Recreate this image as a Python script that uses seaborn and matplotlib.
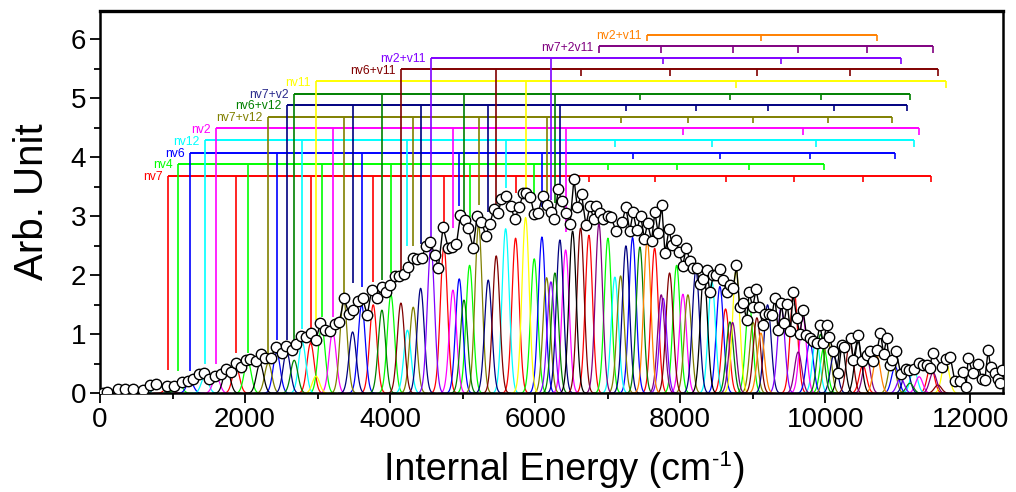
import numpy as np
import matplotlib
matplotlib.use("Agg")
import matplotlib.pyplot as plt
import seaborn as sns
from matplotlib.ticker import MultipleLocator

# ---------------- experimental data (energy cm-1, intensity) ----------------
energy = [40, 90, 250, 345, 460, 600, 690, 775, 920, 1020,
          1125, 1215, 1285, 1370, 1440, 1505, 1585, 1665, 1735, 1800,
          1875, 1945, 2020, 2075, 2150, 2215, 2275, 2355, 2425, 2505,
          2565, 2645, 2700, 2765, 2835, 2905, 2975, 3040, 3100, 3170,
          3240, 3300, 3365, 3435, 3490, 3560, 3620, 3685, 3745, 3815,
          3885, 3945, 4000, 4065, 4125, 4190, 4250, 4320, 4375, 4435,
          4495, 4550, 4620, 4665, 4730, 4800, 4860, 4915, 4970, 5030,
          5075, 5145, 5200, 5260, 5320, 5375, 5430, 5490, 5535, 5595,
          5660, 5720, 5780, 5835, 5880, 5935, 5985, 6040, 6105, 6160,
          6215, 6260, 6320, 6365, 6425, 6480, 6535, 6580, 6640, 6700,
          6755, 6810, 6845, 6895, 6940, 7000, 7045, 7115, 7200, 7250,
          7305, 7350, 7400, 7455, 7505, 7550, 7605, 7650, 7695, 7745,
          7790, 7845, 7890, 7940, 7985, 8035, 8080, 8135, 8170, 8225,
          8270, 8315, 8365, 8410, 8455, 8500, 8545, 8590, 8640, 8685,
          8730, 8775, 8820, 8870, 8915, 8950, 9000, 9045, 9090, 9135,
          9170, 9220, 9265, 9305, 9350, 9395, 9430, 9475, 9520, 9555,
          9605, 9650, 9695, 9740, 9785, 9835, 9880, 9925, 9970, 10020,
          10055, 10110, 10180, 10225, 10255, 10350, 10385, 10455, 10500, 10570,
          10615, 10660, 10715, 10760, 10805, 10845, 10890, 10925, 10975, 11040,
          11110, 11155, 11220, 11290, 11350, 11405, 11440, 11480, 11615, 11660,
          11725, 11785, 11855, 11900, 11940, 11970, 12030, 12110, 12155, 12200,
          12245, 12280, 12335, 12385, 12405, 12430]
intensity = [0.00, 0.03, 0.07, 0.07, 0.07, 0.05, 0.14, 0.16, 0.12, 0.12,
             0.20, 0.21, 0.24, 0.33, 0.34, 0.25, 0.30, 0.33, 0.42, 0.36,
             0.52, 0.45, 0.56, 0.58, 0.55, 0.66, 0.59, 0.60, 0.79, 0.68,
             0.81, 0.73, 0.84, 0.97, 0.95, 1.02, 0.90, 1.19, 1.07, 1.06,
             1.17, 1.21, 1.61, 1.34, 1.41, 1.56, 1.62, 1.32, 1.75, 1.61,
             1.81, 1.72, 1.84, 1.98, 1.99, 2.02, 2.14, 2.30, 2.27, 2.29,
             2.50, 2.57, 2.34, 2.13, 2.82, 2.47, 2.48, 2.53, 3.02, 2.94,
             2.81, 2.47, 3.01, 2.91, 2.67, 2.87, 3.12, 3.06, 3.29, 3.34,
             3.18, 2.95, 3.15, 3.39, 3.40, 3.33, 3.04, 3.06, 3.34, 3.20,
             3.08, 2.95, 3.46, 3.26, 3.06, 2.87, 3.64, 3.16, 3.37, 2.85,
             3.17, 2.95, 3.17, 3.06, 2.95, 3.00, 2.99, 2.75, 2.90, 3.16,
             2.75, 3.07, 2.76, 3.01, 2.62, 2.88, 2.59, 3.07, 2.72, 3.20,
             2.37, 2.78, 2.51, 2.60, 2.40, 2.15, 2.47, 2.25, 2.12, 2.13,
             1.85, 1.93, 2.09, 1.71, 2.00, 2.00, 2.11, 1.92, 1.72, 1.84,
             1.78, 2.17, 1.47, 1.53, 1.24, 1.71, 1.46, 1.76, 1.47, 1.16,
             1.34, 1.34, 1.33, 1.62, 1.07, 1.53, 1.19, 1.51, 1.06, 1.72,
             1.27, 1.00, 1.41, 0.98, 0.93, 0.89, 0.85, 1.16, 0.86, 1.16,
             0.95, 0.72, 0.35, 0.82, 0.79, 0.93, 0.56, 0.99, 0.55, 0.65,
             0.72, 0.55, 0.73, 1.03, 0.66, 0.93, 0.48, 0.56, 0.72, 0.33,
             0.41, 0.39, 0.41, 0.51, 0.48, 0.48, 0.43, 0.69, 0.44, 0.58,
             0.61, 0.21, 0.21, 0.36, 0.10, 0.60, 0.35, 0.49, 0.24, 0.23,
             0.73, 0.44, 0.35, 0.25, 0.17, 0.40]

# ---------------- progressions ----------------
prog_labels = ["nv7", "nv4", "nv6", "nv12", "nv2", "nv7+v12", "nv6+v12",
               "nv7+v2", "nv11", "nv6+v11", "nv2+v11", "nv7+2v11", "nv2+v11"]
prog_levels = [3.69, 3.89, 4.08, 4.29, 4.49, 4.69, 4.89, 5.08, 5.29, 5.49,
               5.69, 5.88, 6.08]
line_colors = ["#ff0000", "#00ff00", "#0000ff", "#00ffff", "#ff00ff", "#808000",
               "#000080", "#008000", "#ffff00", "#800000", "#8000ff", "#800080",
               "#ff8000"]
label_colors = ["#ff0000", "#00ff00", "#0000ff", "#00ffff", "#ff00ff", "#808000",
                "#008000", "#2b2b8c", "#ffff00", "#800000", "#8000ff", "#800080",
                "#ff8000"]

nv7_E = [942, 1875, 2904, 3767, 4742, 5730, 6741, 7647, 8625, 9567, 10518, 11455]
nv7_H = [0.11, 0.45, 0.85, 1.50, 2.49, 2.63, 2.68, 2.46, 1.43, 1.78, 0.48, 0.46]
nv7_D = [0.40, 0.69, 0.86, 1.89, 2.91, 3.40]

nv4_E = [1079, 2036, 3056, 4011, 5096, 5987, 7003, 7950, 8951, 9980]
nv4_H = [0.20, 0.55, 1.13, 1.67, 2.17, 2.28, 2.63, 2.17, 1.53, 0.77]
nv4_D = [0.38, 0.69, 1.30, 2.04, 2.99, 3.28]

nv6_E = [1241, 2436, 3608, 4953, 6093, 7343, 8547, 9787, 10963]
nv6_H = [0.20, 0.69, 1.50, 1.94, 2.65, 2.64, 1.81, 0.87, 0.45]
nv6_D = [0.38, 0.90, 1.80, 3.17, 3.15]

nv12_E = [1447, 2789, 4239, 5593, 7099, 8436, 9874, 11221]
nv12_H = [0.29, 0.87, 1.07, 2.79, 1.97, 1.89, 0.94, 0.40]
nv12_D = [0.50, 1.09, 2.49, 3.48]

nv2_E = [1603, 3208, 4866, 6420, 8037, 9691, 11294]
nv2_H = [0.28, 1.04, 1.75, 2.43, 1.68, 1.30, 0.28]
nv2_D = [0.50, 1.30, 2.80, 2.74]

nv7v12_E = [2320, 3359, 4319, 5220, 6158, 7178, 8106, 9006, 10031, 10922]
nv7v12_H = [0.51, 1.61, 1.46, 2.85, 1.96, 1.99, 1.67, 1.20, 0.96, 0.60]
nv7v12_D = [0.62, 1.67, 2.49, 3.19, 3.10]

navy_E = [2574, 3483, 4421, 5353, 6341, 7251, 8216, 9204, 10118, 11120]
navy_H = [0.71, 1.04, 1.78, 1.92, 2.60, 2.50, 2.09, 1.50, 0.65, 0.40]
navy_D = [0.90, 1.87, 2.53, 3.08, 3.42]

dkgreen_E = [2678, 3887, 5018, 6272, 7444, 8685, 9935, 11166]
dkgreen_H = [0.56, 1.41, 1.58, 2.04, 2.48, 1.21, 1.00, 0.17]
dkgreen_D = [0.90, 1.92, 2.99, 3.22]

nv11_E = [2978, 5868, 8771, 11658]
nv11_H = [0.29, 2.98, 2.09, 0.56]
nv11_D = [1.24, 3.45]

nv6v11_E = [4149, 5463, 6626, 7853, 9057, 10339, 11553]
nv6v11_H = [1.53, 2.33, 2.80, 2.04, 1.28, 0.87, 0.14]
nv6v11_D = [2.04, 3.10]

nv2v11_E = [4563, 6217, 7765, 9392, 11038]
nv2v11_H = [2.48, 1.89, 1.61, 1.47, 0.26]
nv2v11_D = [2.57, 3.28]

nv72v11_E = [6879, 7738, 8722, 9626, 10569, 11487]
nv72v11_H = [2.87, 1.67, 1.20, 0.70, 0.62, 0.35]
nv72v11_D = []

orange_E = [7545, 9112, 10711]
orange_H = [2.59, 1.02, 0.63]
orange_D = []

# unlabeled component peaks
extra_E = [800, 1747, 2206, 6516, 8326, 10224, 10453]
extra_H = [0.20, 0.41, 0.50, 2.75, 2.04, 0.85, 0.87]
extra_colors = ["#008080", "#000000", "#000000", "#000000", "#000000", "#000000", "#000000"]

prog_E = [nv7_E, nv4_E, nv6_E, nv12_E, nv2_E, nv7v12_E, navy_E, dkgreen_E,
          nv11_E, nv6v11_E, nv2v11_E, nv72v11_E, orange_E]
prog_H = [nv7_H, nv4_H, nv6_H, nv12_H, nv2_H, nv7v12_H, navy_H, dkgreen_H,
          nv11_H, nv6v11_H, nv2v11_H, nv72v11_H, orange_H]
prog_D = [nv7_D, nv4_D, nv6_D, nv12_D, nv2_D, nv7v12_D, navy_D, dkgreen_D,
          nv11_D, nv6v11_D, nv2v11_D, nv72v11_D, orange_D]

SIGMA = 50.0
TICK = 0.11

# ---------------- figure ----------------
sns.set_theme(style="ticks")
plt.rcParams["font.family"] = ["Liberation Sans", "DejaVu Sans"]

W, H = 1016, 492
fig = plt.figure(figsize=(W / 100, H / 100), dpi=100)
ax = fig.add_axes([0.0984, 0.2006, 0.8888, 0.777])


def draw_peak(center, height, color):
    xs = np.linspace(center - 4 * SIGMA, center + 4 * SIGMA, 81)
    ys = height * np.exp(-0.5 * ((xs - center) / SIGMA) ** 2)
    ax.plot(xs, ys, color=color, lw=0.9, zorder=2)


for E_list, H_list, col in zip(prog_E, prog_H, line_colors):
    for e, h in zip(E_list, H_list):
        draw_peak(e, h, col)
for e, h, col in zip(extra_E, extra_H, extra_colors):
    draw_peak(e, h, col)

# progression combs
for lab, lev, lc, tc, E_list, D_list in zip(prog_labels, prog_levels, line_colors,
                                             label_colors, prog_E, prog_D):
    bottoms = list(D_list) + [lev - TICK] * (len(E_list) - len(D_list))
    ax.hlines(lev, E_list[0], E_list[-1], color=lc, lw=1.4, zorder=3)
    ax.vlines(E_list, bottoms, lev, color=lc, lw=1.2, zorder=3)
    ax.annotate(lab, xy=(E_list[0], lev), xytext=(-4, -1), textcoords="offset points",
                ha="right", va="center", color=tc, fontsize=8.7, zorder=5)

# experimental trace
sns.lineplot(x=energy, y=intensity, ax=ax, color="black", lw=1.0, sort=False,
             estimator=None, marker="o", markersize=7.5, markerfacecolor="white",
             markeredgecolor="black", markeredgewidth=1.0, zorder=4)

ax.set_xlim(0, 12450)
ax.set_ylim(0, 6.48)
ax.xaxis.set_major_locator(MultipleLocator(2000))
ax.xaxis.set_minor_locator(MultipleLocator(1000))
ax.yaxis.set_major_locator(MultipleLocator(1))
ax.yaxis.set_minor_locator(MultipleLocator(0.5))
ax.tick_params(which="major", direction="out", length=7, width=1.3,
               labelsize=20, pad=3, color="black", labelcolor="black")
ax.tick_params(which="minor", direction="out", length=4, width=1.3, color="black")
ax.tick_params(top=False, right=False, which="both")
for s in ax.spines.values():
    s.set_linewidth(1.8)
    s.set_color("black")
    s.set_visible(True)
ax.spines["top"].set_linewidth(2.4)
ax.set_facecolor("white")
ax.grid(False)

ax.set_ylabel("Arb. Unit", fontsize=29, labelpad=14, color="black")

# x label built from pieces so the superscript uses a plain hyphen
fig.canvas.draw()
rend = fig.canvas.get_renderer()
center_px, base_px = 564, H - 480
parts = [("Internal Energy (cm", 27, 0), ("-1", 16, 14), (")", 27, 0)]
texts = []
widths = []
for s, fs, dy in parts:
    t = fig.text(0, 0, s, fontsize=fs, ha="left", va="baseline", color="black")
    widths.append(t.get_window_extent(renderer=rend).width)
    texts.append((t, dy))
x_px = center_px - sum(widths) / 2.0
for (t, dy), w in zip(texts, widths):
    t.set_position((x_px / W, (base_px + dy) / H))
    x_px += w + 1

fig.savefig("out.png", dpi=100, facecolor="white")
